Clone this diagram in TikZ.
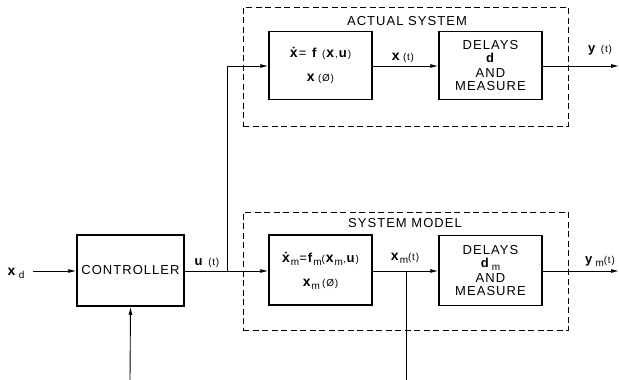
\documentclass[tikz,border=0pt]{standalone}
\usepackage{fontspec}
\setmainfont{Liberation Sans}[LetterSpace=8]
\usetikzlibrary{arrows.meta}
\newcommand{\bx}{{\fontsize{14}{14}\selectfont\textbf{x}}}
\newcommand{\bxd}{{\fontsize{14}{14}\selectfont\textbf{\.x}}}
\newcommand{\sm}[1]{{\fontsize{10}{11}\selectfont #1}}
\newcommand{\subm}[1]{\raisebox{-3pt}[0pt][0pt]{\fontsize{10}{11}\selectfont #1}}
\begin{document}
\begin{tikzpicture}[x=1pt,y=-1pt,
  every node/.style={font=\fontsize{13}{14}\selectfont},
  blk/.style={draw,line width=1.5pt,minimum width=103pt,minimum height=68pt,inner sep=0pt,align=center},
  grp/.style={draw,dash pattern=on 6pt off 3.5pt,line width=1pt,minimum width=325pt,inner sep=0pt},
  arr/.style={-{Latex[length=8pt,width=4pt]},line width=0.9pt},
  ln/.style={line width=0.9pt}]
\useasboundingbox (0,0) rectangle (619,380);

% dashed groups
\node[grp,minimum height=119pt] (act) at (405.5,66.5) {};
\node[grp,minimum height=118pt] (mod) at (405.5,271) {};
\node (actt) at (407,21) {ACTUAL SYSTEM};
\node (modt) at (405,223) {SYSTEM MODEL};

% blocks
\node[blk,minimum width=107pt,minimum height=71pt] (ctrl) at (130.5,270.5) {CONTROLLER};
\node[blk] (f) at (320.5,65.5) {\bxd= \textbf{f} \sm{(}\bx\sm{,}\textbf{u}\sm{)}\\[10pt]\bx\,\sm{(\O)}};
\node[blk] (d) at (490.5,65.5) {DELAYS\\[-1pt] \textbf{d}\\[1pt] AND\\[-1pt] MEASURE};
\node[blk,minimum height=70pt] (fm) at (320.5,270) {\bxd\subm{m}=\textbf{f}\subm{m}\sm{(}\bx\subm{m}\sm{,}\textbf{u}\sm{)}\\[10pt]\bx\subm{m}\,\sm{(\O)}};
\node[blk,minimum height=70pt] (dm) at (490.5,270.5) {DELAYS\\[-1pt] \textbf{d}\,\subm{m}\\[1pt] AND\\[-1pt] MEASURE};

% free ends and branch points
\coordinate (xds) at (33,271);
\coordinate (cin) at (130,380);
\coordinate (br) at (227,271);
\coordinate (up) at (227,66);
\coordinate (yo) at (619,66);
\coordinate (ymo) at (619,271);
\coordinate (xmb) at (406,271);
\coordinate (xmo) at (406,380);

% connectors
\draw[arr] (xds) -- (ctrl.west |- xds);
\draw[arr] (cin) -- (ctrl.south);
\draw[ln] (ctrl.east |- br) -- (br);
\draw[arr] (br) -- (fm.west |- br);
\draw[arr] (br) -- (up) -- (f.west |- up);
\draw[arr] (f.east |- up) -- (d.west |- up);
\draw[arr] (fm.east |- br) -- (dm.west |- br);
\draw[ln] (xmb) -- (xmo);
\draw[arr] (d.east |- up) -- (yo);
\draw[arr] (dm.east |- br) -- (ymo);

% labels
\node (lxd) at (16,272) {\bx\,\subm{d}};
\node (lu) at (207,263) {\textbf{u} \sm{(t)}};
\node (lx) at (403,58) {\bx\,\sm{(t)}};
\node (lxm) at (405,258) {\bx\subm{m}\sm{(t)}};
\node (ly) at (600,50) {\textbf{y} \sm{(t)}};
\node (lym) at (600,261) {\textbf{y}\,\subm{m}\sm{(t)}};
\end{tikzpicture}
\end{document}
